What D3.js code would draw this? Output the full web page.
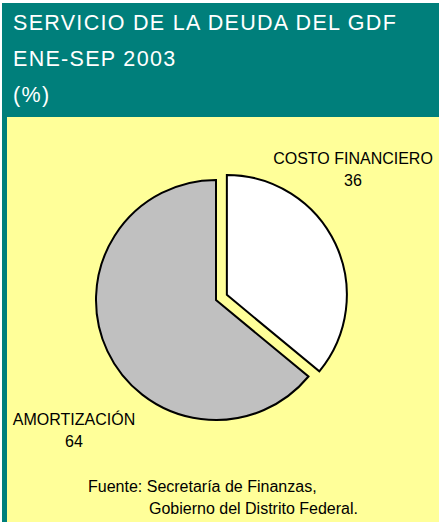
<!DOCTYPE html>
<html><head><meta charset="utf-8">
<script src="https://cdn.jsdelivr.net/npm/d3@7"></script>
<style>body{margin:0;background:#fff}svg{display:block}</style>
</head><body>
<script>
const categories = ["COSTO FINANCIERO", "AMORTIZACIÓN"];
const values = [36, 64];
const colors = ["#ffffff", "#c0c0c0"];
const titleLines = ["SERVICIO DE LA DEUDA DEL GDF", "ENE-SEP 2003", "(%)"];
const sourceLines = ["Fuente: Secretaría de Finanzas,", "Gobierno del Distrito Federal."];

const W = 439, H = 522;
const svg = d3.select("body").append("svg").attr("width", W).attr("height", H);
svg.append("rect").attr("x", 0).attr("y", 0).attr("width", W).attr("height", H).attr("fill", "#ffffff");
svg.append("rect").attr("x", 2).attr("y", 3).attr("width", W - 2).attr("height", H - 3).attr("fill", "#007f7b");
svg.append("rect").attr("x", 7).attr("y", 117).attr("width", W - 7).attr("height", H - 117).attr("fill", "#ffff99");

const font = "Liberation Sans, Arial, sans-serif";
svg.selectAll("text.title").data(titleLines).enter().append("text")
  .attr("x", 13).attr("y", (d, i) => 30 + i * 36)
  .attr("fill", "#ffffff").attr("font-family", font).attr("font-size", 21.5)
  .attr("letter-spacing", 1.3).text(d => d);

const cx = 216, cy = 300, r = 120, explode = 12;
const pie = d3.pie().sort(null).value(d => d);
const arcs = pie(values);
const arc = d3.arc().innerRadius(0).outerRadius(r);
const g = svg.append("g").attr("transform", `translate(${cx},${cy})`);
g.selectAll("path").data(arcs).enter().append("path")
  .attr("transform", (d, i) => {
    if (i !== 0) return null;
    const a = (d.startAngle + d.endAngle) / 2;
    return `translate(${Math.sin(a) * explode},${-Math.cos(a) * explode})`;
  })
  .attr("d", arc).attr("fill", (d, i) => colors[i])
  .attr("stroke", "#000").attr("stroke-width", 2).attr("stroke-linejoin", "miter");

const lbl = [
  {x: 353, y: 164, v: 186},
  {x: 74, y: 425, v: 447}
];
categories.forEach((c, i) => {
  svg.append("text").attr("x", lbl[i].x).attr("y", lbl[i].y).attr("text-anchor", "middle")
    .attr("font-family", font).attr("font-size", 16).attr("fill", "#000").text(c);
  svg.append("text").attr("x", lbl[i].x).attr("y", lbl[i].v).attr("text-anchor", "middle")
    .attr("font-family", font).attr("font-size", 16).attr("fill", "#000").text(values[i]);
});

svg.append("text").attr("x", 88).attr("y", 492).attr("font-family", font).attr("font-size", 16).text(sourceLines[0]);
svg.append("text").attr("x", 149).attr("y", 514).attr("font-family", font).attr("font-size", 16).text(sourceLines[1]);
</script>
</body></html>
